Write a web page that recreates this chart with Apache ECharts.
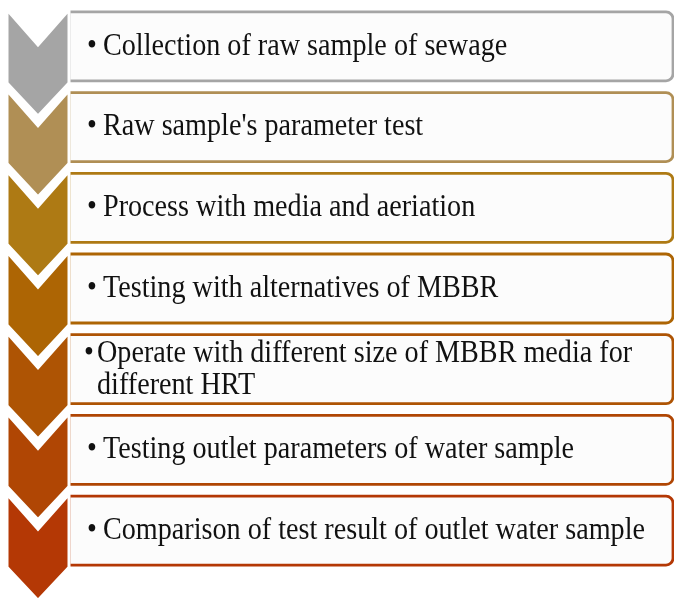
<!DOCTYPE html>
<html>
<head>
<meta charset="utf-8">
<script src="https://cdn.jsdelivr.net/npm/echarts@6/dist/echarts.min.js"></script>
<style>
  html, body { margin: 0; padding: 0; background: #fff; }
  #chart { width: 674px; height: 598px; }
</style>
</head>
<body>
<div id="chart"></div>
<script>
// steps of the process, top to bottom
const steps = [
  'Collection of raw sample of sewage',
  "Raw sample's parameter test",
  'Process with media and aeriation',
  'Testing with alternatives of MBBR',
  'Operate with different size of MBBR media for\ndifferent HRT',
  'Testing outlet parameters of water sample',
  'Comparison of test result of outlet water sample'
]
const stepIndex = steps.map((_, i) => i)

// chevron / border colour per step (gray -> gold -> rust)
const PALETTE = ['#A5A5A5', '#B08F55', '#AE7A14', '#AD6504', '#AE5404', '#B04604', '#B43805']

const chart = echarts.init(document.getElementById('chart'))

function renderItem(params, api) {
  const i = api.value(0)
  const cs = params.coordSys
  const cy = api.coord([0, i])[1]
  const band = api.size([0, 1])[1]
  const color = PALETTE[i % PALETTE.length]

  const x0 = cs.x
  const cw = 62
  const x1 = x0 + cw
  const xm = x0 + cw / 2
  const top = cy - band * 0.452
  const side = band * 0.905
  const notch = band * 0.435
  const tip = band * 0.41

  const boxH = band * 0.855
  const boxTop = cy - boxH / 2
  const boxRight = cs.x + cs.width

  const label = steps[i]
  const multi = label.indexOf('\n') >= 0
  const font = '32px "Liberation Serif", serif'
  const sx = 0.88

  return {
    type: 'group',
    children: [
      {
        type: 'rect',
        shape: { x: x1, y: boxTop, width: boxRight - x1, height: boxH, r: [0, 7, 7, 0] },
        style: { fill: '#FCFCFC', stroke: color, lineWidth: 2.8 }
      },
      {
        type: 'polygon',
        shape: {
          points: [
            [x0, top], [xm, top + notch], [x1, top],
            [x1, top + side], [xm, top + side + tip], [x0, top + side]
          ]
        },
        style: { fill: color, stroke: '#fff', lineWidth: 3, lineJoin: 'miter' }
      },
      {
        type: 'text',
        x: multi ? 84 : 87,
        y: multi ? cy - 16 : cy,
        scaleX: sx,
        style: { text: '\u2022', font: font, fill: '#111', verticalAlign: 'middle' }
      },
      {
        type: 'text',
        x: multi ? 97 : 103,
        y: cy,
        scaleX: sx,
        style: {
          text: label, font: font, fill: '#111',
          verticalAlign: 'middle', lineHeight: 32
        }
      }
    ]
  }
}

chart.setOption({
  animation: false,
  grid: { left: 7, right: 1, top: 6, bottom: 27 },
  xAxis: { type: 'value', min: 0, max: 1, show: false },
  yAxis: { type: 'category', data: stepIndex, inverse: true, show: false },
  series: [{
    type: 'custom',
    renderItem: renderItem,
    data: stepIndex.map(i => [i]),
    encode: { y: 0 },
    clip: false
  }]
})
</script>
</body>
</html>
